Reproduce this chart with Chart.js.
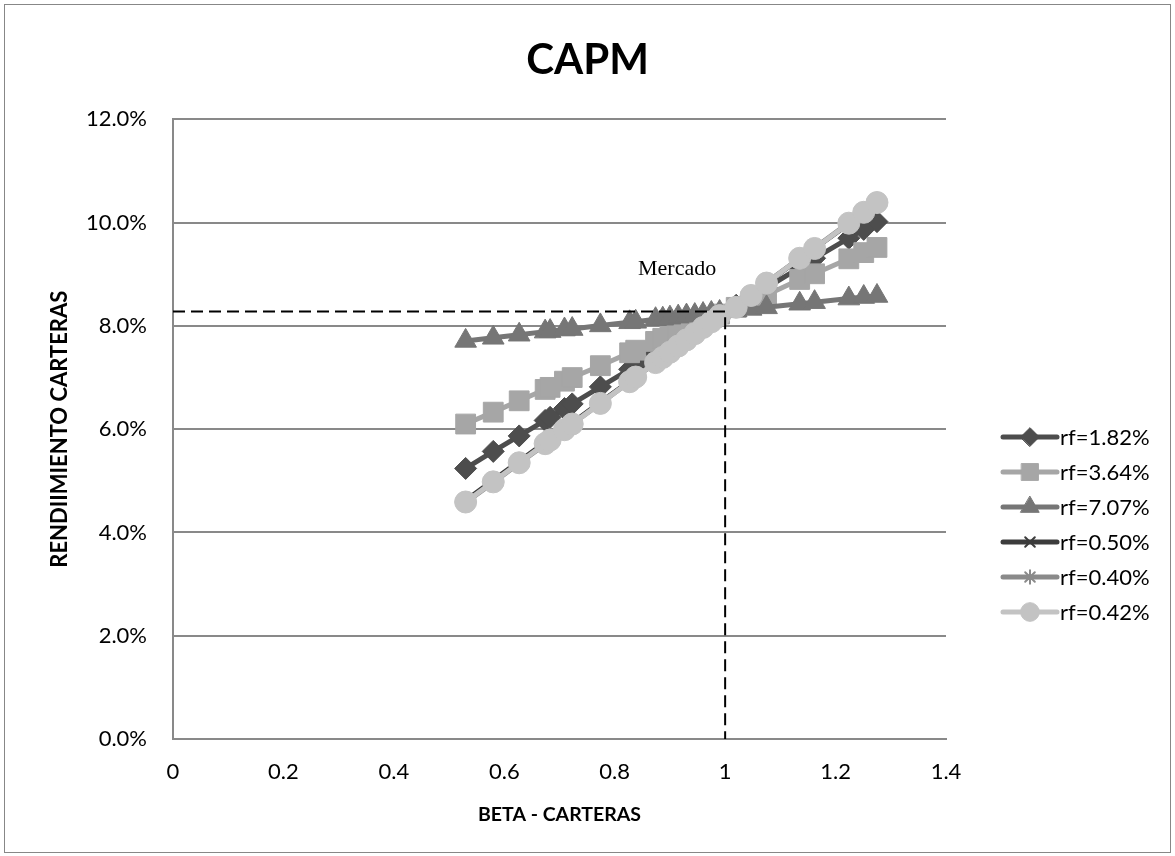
<!DOCTYPE html>
<html>
<head>
<meta charset="utf-8">
<title>CAPM</title>
<script src="https://cdn.jsdelivr.net/npm/chart.js@4.4.0/dist/chart.umd.min.js"></script>
<style>
  html, body { margin: 0; padding: 0; background: #fff; }
  #wrap { position: relative; width: 1175px; height: 856px; }
</style>
</head>
<body>
<div id="wrap"><canvas id="capmChart" width="1175" height="856"></canvas></div>
<script>
/* ============================================
   CAPM — rendimiento vs beta de carteras
   ============================================ */

// betas de las carteras (eje X)
const betas = [0.53, 0.58, 0.627, 0.674, 0.683, 0.709, 0.723, 0.774, 0.827, 0.838, 0.874, 0.887, 0.90, 0.915,
               0.93, 0.945, 0.96, 0.975, 0.99, 1.02, 1.047, 1.075, 1.135, 1.162, 1.224, 1.251, 1.275];

// rendimientos en % para cada tasa libre de riesgo
const rf182 = [5.24, 5.57, 5.87, 6.17, 6.23, 6.40, 6.49, 6.82, 7.16, 7.23, 7.47, 7.55, 7.63, 7.73,
               7.83, 7.92, 8.02, 8.12, 8.22, 8.40, 8.57, 8.74, 9.13, 9.31, 9.70, 9.87, 10.02];
const rf364 = [6.10, 6.33, 6.55, 6.77, 6.81, 6.93, 7.00, 7.23, 7.48, 7.53, 7.70, 7.76, 7.82, 7.89,
               7.96, 8.03, 8.09, 8.16, 8.23, 8.36, 8.48, 8.60, 8.90, 9.01, 9.30, 9.42, 9.52];
const rf707 = [7.71, 7.77, 7.83, 7.89, 7.90, 7.93, 7.94, 8.01, 8.07, 8.08, 8.13, 8.14, 8.16, 8.18,
               8.20, 8.21, 8.23, 8.25, 8.27, 8.30, 8.33, 8.36, 8.43, 8.46, 8.53, 8.56, 8.58];
const rf050 = [4.62, 5.01, 5.38, 5.74, 5.81, 6.02, 6.12, 6.52, 6.93, 7.02, 7.30, 7.40, 7.50, 7.62,
               7.74, 7.85, 7.97, 8.09, 8.20, 8.40, 8.61, 8.83, 9.30, 9.50, 9.98, 10.19, 10.38];
const rf040 = [4.58, 4.97, 5.34, 5.71, 5.78, 5.99, 6.10, 6.50, 6.92, 7.00, 7.29, 7.39, 7.49, 7.61,
               7.73, 7.85, 7.96, 8.08, 8.20, 8.38, 8.60, 8.84, 9.31, 9.51, 10.00, 10.21, 10.40];
const rf042 = [4.59, 4.98, 5.35, 5.72, 5.79, 5.99, 6.10, 6.50, 6.92, 7.01, 7.29, 7.39, 7.49, 7.61,
               7.73, 7.85, 7.97, 8.08, 8.20, 8.36, 8.59, 8.83, 9.31, 9.50, 9.99, 10.20, 10.39];

const seriesLabels = ['rf=1.82%', 'rf=3.64%', 'rf=7.07%', 'rf=0.50%', 'rf=0.40%', 'rf=0.42%'];

// punto de mercado
const marketBeta = 1.0;
const marketReturn = 8.28;

// etiquetas de los ejes
const xTickLabels = ['0', '0.2', '0.4', '0.6', '0.8', '1', '1.2', '1.4'];
const yTickLabels = ['0.0%', '2.0%', '4.0%', '6.0%', '8.0%', '10.0%', '12.0%'];

// estilos
const seriesColors = ['#4d4d4d', '#a6a6a6', '#767676', '#3c3c3c', '#8a8a8a', '#c3c3c3'];
const seriesMarkers = ['rectRot', 'rect', 'triangle', 'crossRot', 'star', 'circle'];
const markerRadius = [11, 14, 12.5, 8, 8, 11];
const gridColor = '#898989';
const FONT = 'Lato, "Open Sans", sans-serif';

const allValues = [rf182, rf364, rf707, rf050, rf040, rf042];

function buildSeries(i) {
    const thinMarker = seriesMarkers[i] === 'crossRot' || seriesMarkers[i] === 'star';
    return {
        label: seriesLabels[i],
        data: betas.map((b, k) => ({ x: b, y: allValues[i][k] })),
        showLine: true,
        borderColor: seriesColors[i],
        backgroundColor: seriesColors[i],
        borderWidth: 5,
        pointStyle: seriesMarkers[i],
        pointRadius: markerRadius[i],
        pointHoverRadius: markerRadius[i],
        pointBorderWidth: thinMarker ? 2 : 1,
        pointBorderColor: seriesColors[i],
        pointBackgroundColor: seriesColors[i],
        order: 10 - i
    };
}

const datasets = allValues.map((v, i) => buildSeries(i));

// líneas punteadas hacia el punto de mercado
datasets.push({
    label: 'mercado',
    data: [{ x: 0, y: marketReturn }, { x: marketBeta, y: marketReturn }, { x: marketBeta, y: 0 }],
    showLine: true,
    borderColor: '#000',
    borderWidth: 2,
    borderDash: [12, 6],
    pointRadius: 0,
    order: 0
});

/**
 * Marco exterior, etiqueta "Mercado" y leyenda estilo Excel.
 */
const extrasPlugin = {
    id: 'extras',
    beforeDraw(chart) {
        const ctx = chart.ctx;
        ctx.save();
        ctx.fillStyle = '#fff';
        ctx.fillRect(0, 0, chart.width, chart.height);
        ctx.restore();
    },
    afterDraw(chart) {
        const ctx = chart.ctx;
        const xs = chart.scales.x, ys = chart.scales.y;
        ctx.save();

        // marco
        ctx.strokeStyle = '#878787';
        ctx.lineWidth = 1;
        ctx.strokeRect(4.5, 4.5, 1166, 848);

        // etiqueta de mercado
        ctx.fillStyle = '#000';
        ctx.font = '22px "Liberation Serif", "DejaVu Serif", serif';
        ctx.textAlign = 'center';
        ctx.textBaseline = 'middle';
        ctx.fillText('Mercado', xs.getPixelForValue(0.913), ys.getPixelForValue(9.1));

        // leyenda
        const lx0 = 1003, lx1 = 1057, top = 437, gap = 35;
        seriesLabels.forEach((lab, i) => {
            const y = top + i * gap;
            ctx.strokeStyle = seriesColors[i];
            ctx.lineWidth = 5;
            ctx.lineCap = 'round';
            ctx.beginPath();
            ctx.moveTo(lx0, y);
            ctx.lineTo(lx1, y);
            ctx.stroke();
            ctx.fillStyle = seriesColors[i];
            const thin = seriesMarkers[i] === 'crossRot' || seriesMarkers[i] === 'star';
            ctx.lineWidth = thin ? 2 : 1;
            Chart.helpers.drawPoint(ctx, {
                pointStyle: seriesMarkers[i],
                radius: markerRadius[i] * 0.85,
                rotation: 0,
                borderWidth: thin ? 2 : 1
            }, (lx0 + lx1) / 2, y);
            ctx.fillStyle = '#000';
            ctx.font = '22px ' + FONT;
            ctx.textAlign = 'left';
            ctx.textBaseline = 'middle';
            ctx.fillText(lab, lx1 + 3, y + 1);
        });
        ctx.restore();
    }
};

document.addEventListener('DOMContentLoaded', function () {
    const canvas = document.getElementById('capmChart');
    new Chart(canvas, {
        type: 'scatter',
        data: { datasets: datasets },
        options: {
            responsive: false,
            animation: false,
            devicePixelRatio: 1,
            layout: { padding: 0 },
            plugins: {
                legend: { display: false },
                tooltip: { enabled: false },
                title: {
                    display: true,
                    text: 'CAPM',
                    color: '#000',
                    font: { family: FONT, size: 42, weight: 'bold', lineHeight: 1.2 },
                    padding: { top: 35, bottom: 34 }
                }
            },
            scales: {
                x: {
                    type: 'linear',
                    min: 0,
                    max: 1.4,
                    ticks: {
                        stepSize: 0.2,
                        color: '#000',
                        font: { family: FONT, size: 22 },
                        padding: 20,
                        callback: (v, i) => xTickLabels[i] !== undefined ? xTickLabels[i] : v
                    },
                    grid: { display: false, drawTicks: false },
                    border: { display: true, color: gridColor, width: 2 },
                    title: {
                        display: true,
                        text: 'BETA - CARTERAS',
                        color: '#000',
                        font: { family: FONT, size: 19.5, weight: 'bold', lineHeight: 1.2 },
                        padding: { top: 0, bottom: 30 }
                    },
                    afterFit: s => { s.height = 117; }
                },
                y: {
                    type: 'linear',
                    position: 'left',
                    min: 0,
                    max: 12,
                    ticks: {
                        stepSize: 2,
                        color: '#000',
                        font: { family: FONT, size: 22 },
                        padding: 26,
                        callback: (v, i) => yTickLabels[i] !== undefined ? yTickLabels[i] : v
                    },
                    grid: { color: gridColor, lineWidth: 2, drawTicks: false },
                    border: { display: true, color: gridColor, width: 2 },
                    title: {
                        display: true,
                        text: 'RENDIIMIENTO CARTERAS',
                        color: '#000',
                        font: { family: FONT, size: 22, weight: 'bold', lineHeight: 1.2 },
                        padding: { top: 47, bottom: 0 }
                    },
                    afterFit: s => { s.width = 173; }
                },
                // eje vacío a la derecha: reserva el espacio de la leyenda
                yLegend: {
                    type: 'linear',
                    position: 'right',
                    display: true,
                    ticks: { display: false },
                    grid: { display: false, drawTicks: false },
                    border: { display: false },
                    afterFit: s => { s.width = 229; }
                }
            }
        },
        plugins: [extrasPlugin]
    });
});
</script>
</body>
</html>
